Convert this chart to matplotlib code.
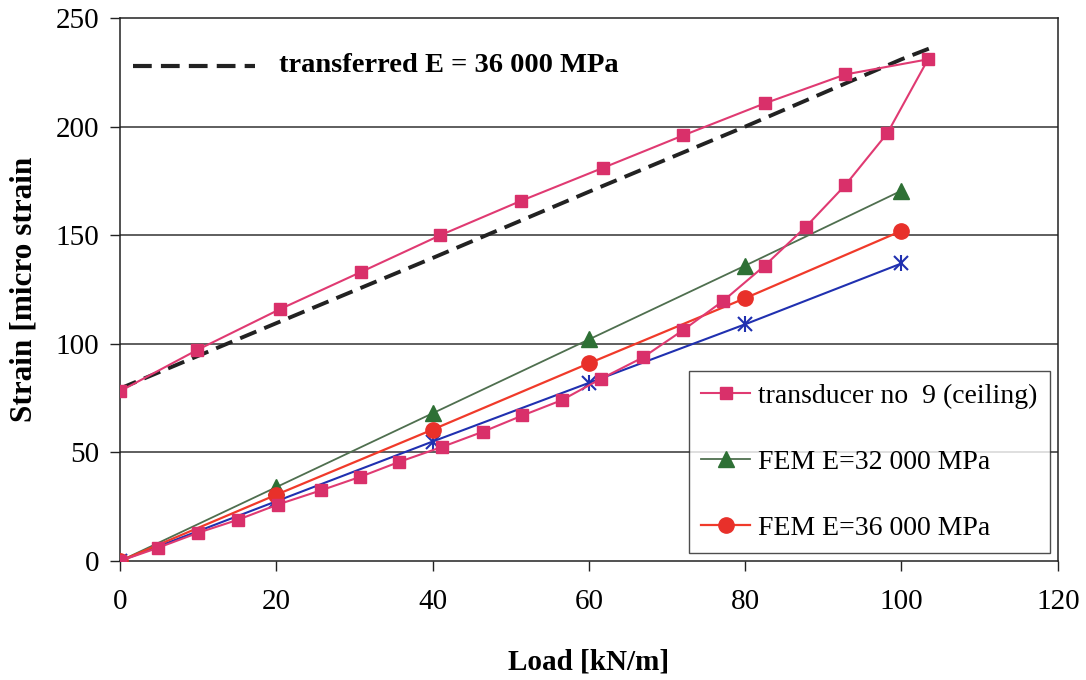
import matplotlib.pyplot as plt

# transducer no 9, loading then unloading
load_tr = [0, 4.8, 10, 15.1, 20.2, 25.7, 30.7, 35.7, 41.2, 46.5, 51.5, 56.5, 61.6, 66.9,
           72.1, 77.2, 82.5, 87.8, 92.8, 98.2, 103.4,
           92.8, 82.5, 72.1, 61.8, 51.3, 41, 30.8, 20.5, 9.9, 0]
strain_tr = [0, 6, 13, 19, 26, 32.5, 38.7, 45.6, 52.5, 59.6, 67, 74, 84, 93.7,
             106.4, 119.8, 136, 154, 173, 197, 231,
             224, 210.7, 196, 181, 165.8, 150, 133, 116, 97.2, 78.2]

# FEM results
load_fem = [0, 20, 40, 60, 80, 100]
strain_e32 = [0, 34, 68, 102, 136, 170.5]
strain_e36 = [0, 30.5, 60.5, 91, 121, 152]
strain_blue = [0, 27.5, 55, 82, 109, 137]

# transferred curve (E = 36 000 MPa shifted to start of unloading)
load_transf = [0, 20, 40, 60, 80, 100, 104.3]
strain_transf = [79.4, 109.5, 139.5, 170, 200, 231, 237]

xticks = [0, 20, 40, 60, 80, 100, 120]
yticks = [0, 50, 100, 150, 200, 250]

plt.rcParams['font.family'] = ['Liberation Serif', 'DejaVu Serif']

fig = plt.figure(figsize=(10.86, 6.8), dpi=100)
ax = fig.add_axes([0.1105, 0.175, 0.8635, 0.7985])

for y in yticks[1:-1]:
    ax.axhline(y, color='#333333', lw=1.1, zorder=1)

ax.plot(load_transf, strain_transf, color='#222222', lw=2.8, dashes=(4.5, 2.2), zorder=2)
ax.plot(load_fem, strain_blue, color='#2030B0', lw=1.5, marker='x', ms=10, mew=1.5, zorder=3)
ax.plot(load_fem, strain_blue, ls='none', color='#2030B0', marker='|', ms=12, mew=1.5, zorder=3)
ax.plot(load_fem, strain_e32, color='#4F6F4F', lw=1.3, marker='^', ms=11,
        mfc='#2E7035', mec='#2E7035', label='FEM E=32 000 MPa', zorder=4)
ax.plot(load_fem, strain_e36, color='#F03A2A', lw=1.6, marker='o', ms=11,
        mfc='#E8302A', mec='#E8302A', label='FEM E=36 000 MPa', zorder=4)
ax.plot(load_tr, strain_tr, color='#E03A72', lw=1.5, marker='s', ms=8.5,
        mfc='#D9306A', mec='#D9306A', label='transducer no  9 (ceiling)', zorder=5)

# "transferred" annotation in top-left corner
ax.plot([0.014, 0.144], [0.912, 0.912], transform=ax.transAxes, color='#222222',
        lw=3, dashes=(4.5, 2.2))
ax.text(0.17, 0.912, 'transferred E = 36 000 MPa', transform=ax.transAxes,
        fontsize=20.5, fontweight='bold', va='center', ha='left')

h, l = ax.get_legend_handles_labels()
order = [2, 0, 1]
leg = ax.legend([h[i] for i in order], [l[i] for i in order],
                loc='lower right', bbox_to_anchor=(0.992, 0.014),
                fontsize=20, frameon=True, fancybox=False, edgecolor='#222222',
                labelspacing=1.46, handlelength=1.75, handletextpad=0.3,
                borderpad=0.45, borderaxespad=0.0)
leg.get_frame().set_linewidth(1.0)

ax.set_xlim(0, 120)
ax.set_ylim(0, 250)
ax.set_xticks(xticks)
ax.set_yticks(yticks)
ax.tick_params(direction='out', length=7, width=1, labelsize=21, color='#222222')
ax.tick_params(axis='x', pad=13)
ax.tick_params(axis='y', pad=8)
for s in ax.spines.values():
    s.set_color('#222222')
    s.set_linewidth(1.1)

ax.set_xlabel('Load [kN/m]', fontsize=21, fontweight='bold', labelpad=24)
ax.set_ylabel('Strain [micro strain', fontsize=22.5, fontweight='bold', labelpad=12)

fig.savefig('out.png', dpi=100)
